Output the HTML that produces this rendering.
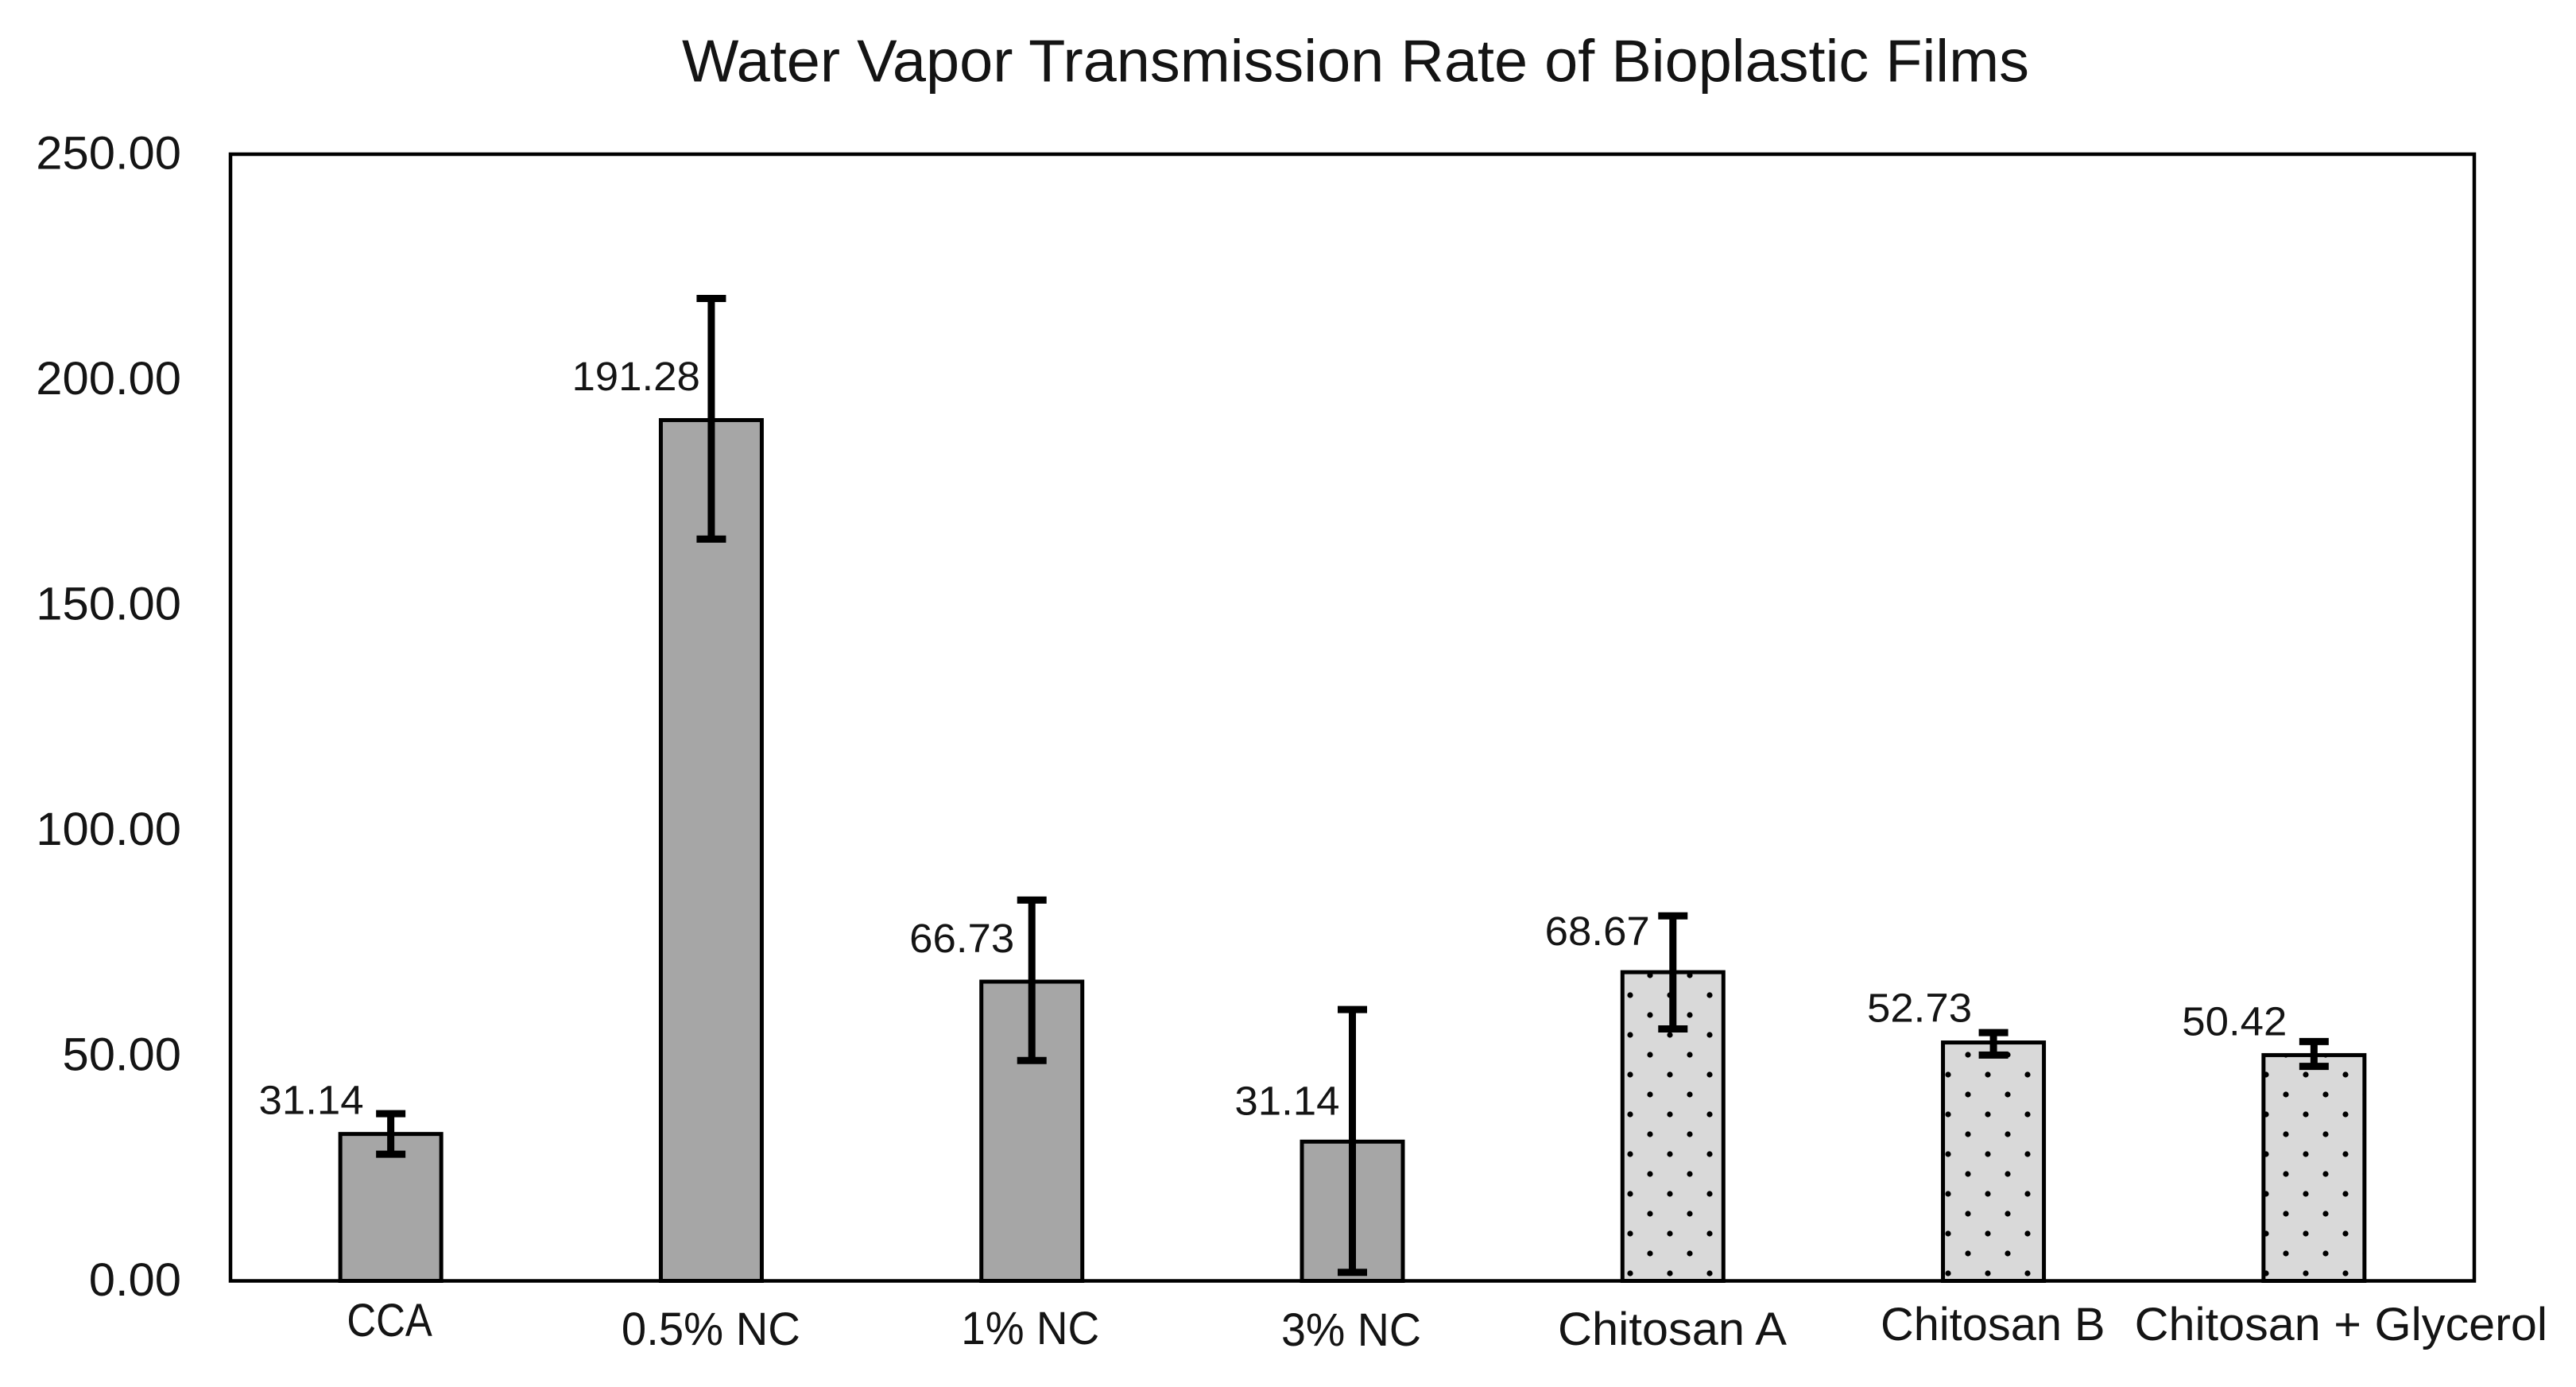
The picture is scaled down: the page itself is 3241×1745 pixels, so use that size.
<!DOCTYPE html>
<html lang="en">
<head>
<meta charset="utf-8">
<title>Water Vapor Transmission Rate of Bioplastic Films</title>
<style>
  html, body { margin: 0; padding: 0; background: #fff; }
  svg { display: block; }
  text { font-family: "Liberation Sans", "DejaVu Sans", sans-serif; fill: #141414; }
</style>
</head>
<body>
<svg id="chart" xmlns="http://www.w3.org/2000/svg" width="3241" height="1745" viewBox="0 0 3241 1745">
  <defs>
    <pattern id="dot-pattern" patternUnits="userSpaceOnUse" x="-11.5" y="-10.5" width="50" height="50">
      <rect width="50" height="50" fill="#d9d9d9"/>
      <circle cx="12.5" cy="12.5" r="3.6" fill="#000"/>
      <circle cx="37.5" cy="37.5" r="3.6" fill="#000"/>
    </pattern>
  </defs>
  <rect x="0" y="0" width="3241" height="1745" fill="#ffffff"/>
  <text id="chart-title" x="858" y="102.5" font-size="75" textLength="1695" lengthAdjust="spacingAndGlyphs">Water Vapor Transmission Rate of Bioplastic Films</text>
  <g id="y-axis"></g>
  <g id="bars"></g>
  <g id="error-bars"></g>
  <g id="value-labels"></g>
  <g id="x-axis"></g>
  <rect id="plot-frame" fill="none" stroke="#000" stroke-width="4.5"/>
</svg>
<script>
// ---- chart data ----
const categories = ['CCA', '0.5% NC', '1% NC', '3% NC', 'Chitosan A', 'Chitosan B', 'Chitosan + Glycerol'];
const materialTypes = ['cellulose', 'cellulose', 'cellulose', 'cellulose', 'chitosan', 'chitosan', 'chitosan'];
const barValues = [32.6, 191.0, 66.4, 30.9, 68.5, 52.9, 50.1];
const errorHigh = [37.1, 218.0, 84.5, 60.2, 81.0, 55.1, 53.1];
const errorLow = [28.1, 164.6, 48.9, 1.9, 55.9, 50.1, 47.6];
const valueLabels = ['31.14', '191.28', '66.73', '31.14', '68.67', '52.73', '50.42'];
const tickValues = [0, 50, 100, 150, 200, 250];

// ---- layout (not data) ----
const plot = { left: 290, right: 3113, top: 194, bottom: 1611.5 };
const yMax = 250;
const barWidth = 127;
const capWidth = 37;
const labelNudge = [[-34, -25], [-14, -37.6], [-22, -37], [-16, -34], [-29, -34], [-27, -26], [-34, -25]];
const categoryTextBox = [[-1.5, 1681, 107.5], [-0.5, 1692, 225], [-2, 1691, 174], [-1.5, 1693, 176], [-0.8, 1692, 288], [-0.8, 1686, 282.5], [34, 1686, 519.5]];

const SVG_NS = 'http://www.w3.org/2000/svg';
const yScale = v => plot.bottom - (v / yMax) * (plot.bottom - plot.top);
const xBand = i => plot.left + (i + 0.5) * (plot.right - plot.left) / categories.length;
const fillFor = type => type === 'chitosan' ? 'url(#dot-pattern)' : '#a6a6a6';

function make(tag, attrs, parent) {
  const el = document.createElementNS(SVG_NS, tag);
  for (const k in attrs) el.setAttribute(k, attrs[k]);
  parent.appendChild(el);
  return el;
}
function slug(s) {
  return s.toLowerCase().replace(/[^a-z0-9]+/g, '-').replace(/^-|-$/g, '');
}

const frame = document.getElementById('plot-frame');
frame.setAttribute('x', plot.left);
frame.setAttribute('y', plot.top);
frame.setAttribute('width', plot.right - plot.left);
frame.setAttribute('height', plot.bottom - plot.top);

const yAxisGroup = document.getElementById('y-axis');
tickValues.forEach(v => {
  const t = make('text', { x: 228, y: yScale(v) + 18.5, 'font-size': 58, 'text-anchor': 'end' }, yAxisGroup);
  t.textContent = v.toFixed(2);
  
  
  t.setAttribute('lengthAdjust', 'spacingAndGlyphs');
  t.setAttribute('textLength', t.getComputedTextLength() * 1.03);
});

const barGroup = document.getElementById('bars');
const errorGroup = document.getElementById('error-bars');
const labelGroup = document.getElementById('value-labels');
const xAxisGroup = document.getElementById('x-axis');

categories.forEach((name, i) => {
  const cx = xBand(i);
  const id = slug(name);

  const bar = make('rect', {
    x: cx - barWidth / 2,
    y: yScale(barValues[i]),
    width: barWidth,
    height: yScale(0) - yScale(barValues[i]),
    fill: fillFor(materialTypes[i]),
    stroke: '#000',
    'stroke-width': 5
  }, barGroup);
  
  

  const hi = yScale(errorHigh[i]);
  const lo = yScale(errorLow[i]);
  const err = make('path', {
    d: 'M' + (cx - capWidth / 2) + ' ' + hi + 'H' + (cx + capWidth / 2) +
       'M' + cx + ' ' + hi + 'V' + lo +
       'M' + (cx - capWidth / 2) + ' ' + lo + 'H' + (cx + capWidth / 2),
    fill: 'none',
    stroke: '#000',
    'stroke-width': 9
  }, errorGroup);
  
  

  const lab = make('text', {
    x: cx + labelNudge[i][0],
    y: yScale(barValues[i]) + labelNudge[i][1],
    'font-size': 51,
    'text-anchor': 'end'
  }, labelGroup);
  lab.textContent = valueLabels[i];
  
  
  lab.setAttribute('lengthAdjust', 'spacingAndGlyphs');
  lab.setAttribute('textLength', lab.getComputedTextLength() * 1.035);

  const box = categoryTextBox[i];
  const cat = make('text', {
    x: cx + box[0],
    y: box[1],
    'font-size': 58,
    'text-anchor': 'middle',
    textLength: box[2],
    lengthAdjust: 'spacingAndGlyphs'
  }, xAxisGroup);
  cat.textContent = name;
  
  
});
</script>
</body>
</html>
